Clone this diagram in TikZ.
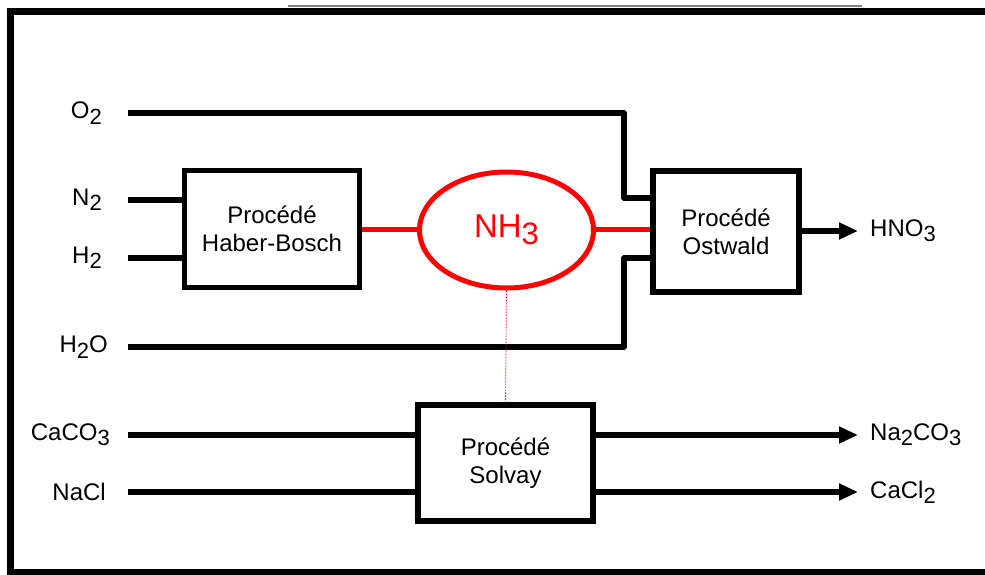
\documentclass[tikz,border=0pt]{standalone}
\usepackage{fontspec}
\setmainfont{Liberation Sans}
\usetikzlibrary{shapes.geometric,arrows.meta}
\newcommand{\chsub}[1]{\raisebox{-0.22em}{\fontsize{22}{22}\selectfont #1}}
\begin{document}
\begin{tikzpicture}[x=1pt,y=-1pt,
  procbox/.style={draw=black,line width=5.5pt,rectangle,inner sep=0pt,align=center,
    font=\fontsize{24}{28}\selectfont},
  flowline/.style={draw=black,line width=5.5pt,line join=round},
  redline/.style={draw=red,line width=5pt},
  outarrow/.style={flowline,-{Triangle[length=19pt,width=16pt]}},
  lbl/.style={inner sep=0pt,font=\fontsize{24}{26}\selectfont},
]
\useasboundingbox (0,0) rectangle (985,575);
% frame
\draw[line width=7pt] (995,11.5) -- (10.5,11.5) -- (10.5,572.5) -- (995,572.5);
\draw[gray,line width=1.5pt] (288,6) -- (862,6);

% process boxes
\node[procbox,minimum width=175pt,minimum height=117pt] (hb) at (272,229) {Procédé\\Haber-Bosch};
\node[procbox,minimum width=146pt,minimum height=121pt] (os) at (726,231.5) {Procédé\\Ostwald};
\node[procbox,minimum width=175pt,minimum height=116pt] (sv) at (505.5,463) {Procédé\\Solvay};
\node[ellipse,draw=red,line width=5pt,inner sep=0pt,minimum width=174pt,minimum height=116pt,
  text=red,font=\fontsize{33}{33}\selectfont] (nh3) at (506.5,230)
  {NH\raisebox{-0.2em}{\fontsize{31}{31}\selectfont 3}};

% labels
\node[lbl,anchor=east] (o2) at (102,113) {O\chsub{2}};
\node[lbl,anchor=east] (n2) at (102,200) {N\chsub{2}};
\node[lbl,anchor=east] (h2) at (102,258) {H\chsub{2}};
\node[lbl,anchor=east] (h2o) at (108,347) {H\chsub{2}O};
\node[lbl,anchor=east] (caco3) at (110,435) {CaCO\chsub{3}};
\node[lbl,anchor=east] (nacl) at (106,492) {NaCl};
\node[lbl,anchor=west] (hno3) at (870,231) {HNO\chsub{3}};
\node[lbl,anchor=west] (na2co3) at (870,435) {Na\chsub{2}CO\chsub{3}};
\node[lbl,anchor=west] (cacl2) at (870,492) {CaCl\chsub{2}};

% free ends
\coordinate (o2s) at (128,113);
\coordinate (n2s) at (128,200);
\coordinate (h2s) at (128,258);
\coordinate (h2os) at (128,347);
\coordinate (caco3s) at (128,435);
\coordinate (nacls) at (128,492);
\coordinate (hno3e) at (858,231);
\coordinate (na2co3e) at (858,435);
\coordinate (cacl2e) at (858,492);

% connectors
\draw[flowline] (o2s) -- (624,113) -- (624,198) -- (os.west |- 0,198);
\draw[flowline] (h2os) -- (624,347) -- (624,258) -- (os.west |- 0,258);
\draw[flowline] (n2s) -- (hb.west |- n2s);
\draw[flowline] (h2s) -- (hb.west |- h2s);
\draw[redline] (hb.east |- 0,229) -- (nh3.west |- 0,229);
\draw[redline] (nh3.east |- 0,229) -- (os.west |- 0,229);
\draw[red,line width=0.7pt,dash pattern=on 1.5pt off 1.5pt] (nh3.south) -- (sv.north);
\draw[outarrow] (os.east |- hno3e) -- (hno3e);
\draw[flowline] (caco3s) -- (sv.west |- caco3s);
\draw[flowline] (nacls) -- (sv.west |- nacls);
\draw[outarrow] (sv.east |- na2co3e) -- (na2co3e);
\draw[outarrow] (sv.east |- cacl2e) -- (cacl2e);
\end{tikzpicture}
\end{document}
